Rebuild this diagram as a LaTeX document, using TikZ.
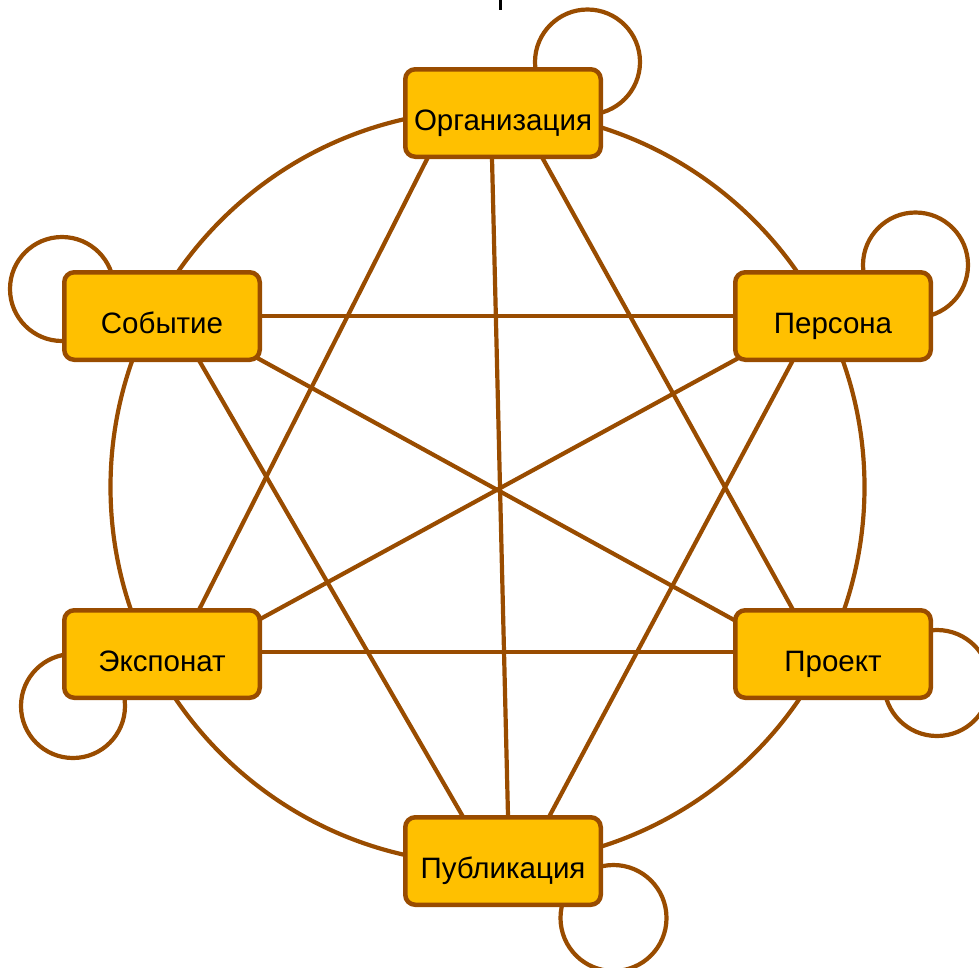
\documentclass[tikz,border=0pt]{standalone}
\usepackage{fontspec}
\setmainfont{Liberation Sans}
\usetikzlibrary{calc}
\definecolor{edgec}{RGB}{153,76,0}
\definecolor{boxfill}{RGB}{255,192,0}
\pgfdeclarelayer{bg}
\pgfsetlayers{bg,main}
\begin{document}
\begin{tikzpicture}[x=1pt,y=-1pt,
  ent/.style={draw=edgec, fill=boxfill, line width=4.5pt, rounded corners=10pt,
    minimum width=195.5pt, minimum height=87.5pt, inner sep=0pt,
    text height=35pt, text depth=0pt, font=\fontsize{29.5}{30}\selectfont},
  link/.style={draw=edgec, line width=4.2pt},
  loopc/.style={draw=edgec, line width=4.2pt}]
\useasboundingbox (0,0) rectangle (979,967);

\node[ent] (org) at (503,113) {Организация};
\node[ent] (sob) at (162,316) {Событие};
\node[ent] (per) at (833,316) {Персона};
\node[ent] (eks) at (162,654) {Экспонат};
\node[ent] (pro) at (833,654) {Проект};
\node[ent] (pub) at (503,861) {Публикация};

\begin{pgfonlayer}{bg}
  \coordinate (ctr) at (487.5,487);
  \draw[link] (ctr) circle[radius=377pt];
  % self loops
  \draw[loopc] ($(org)+(84.5,-51)$) circle[radius=52.5pt];
  \draw[loopc] ($(sob)+(-100,-27)$) circle[radius=52pt];
  \draw[loopc] ($(per)+(82.5,-51)$) circle[radius=52.5pt];
  \draw[loopc] ($(eks)+(-89,52)$) circle[radius=52pt];
  \draw[loopc] ($(pro)+(104,29)$) circle[radius=53pt];
  \draw[loopc] ($(pub)+(110.5,57)$) circle[radius=53pt];
  % chords
  \draw[link] ($(org)+(-71.4,37)$) -- ($(eks)+(33.4,-37)$);
  \draw[link] ($(org)+(-11.2,37)$) -- ($(pub)+(5.2,-37)$);
  \draw[link] ($(org)+(35,37)$) -- ($(pro)+(-36,-37)$);
  \draw[link] ($(sob)+(88,0)$) -- ($(per)+(-88,0)$);
  \draw[link] ($(sob)+(88,38)$) -- ($(pro)+(-88,-28)$);
  \draw[link] ($(sob)+(32.2,36)$) -- ($(pub)+(-35.8,-37)$);
  \draw[link] ($(per)+(-88,38.5)$) -- ($(eks)+(90,-30.5)$);
  \draw[link] ($(per)+(-35.7,36)$) -- ($(pub)+(42.2,-37)$);
  \draw[link] ($(eks)+(88,-2)$) -- ($(pro)+(-88,-2)$);
\end{pgfonlayer}

\coordinate (tickA) at (500,0);
\coordinate (tickB) at (500,10);
\draw[black, line width=3pt] (tickA) -- (tickB);
\end{tikzpicture}
\end{document}
